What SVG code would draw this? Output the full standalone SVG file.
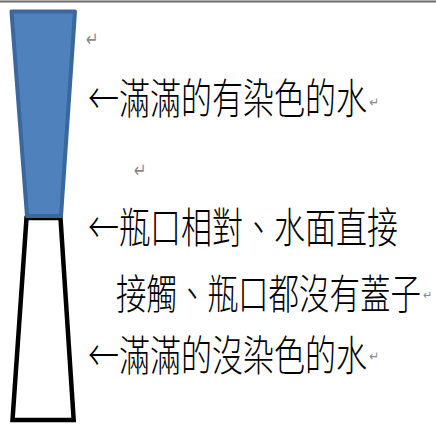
<svg xmlns="http://www.w3.org/2000/svg" width="436" height="424" viewBox="0 0 436 424">
<style>
.t{font-family:"Noto Sans CJK TC","Noto Sans CJK SC",sans-serif;font-size:31px;font-weight:300;fill:#000}
.m{font-family:"DejaVu Sans",sans-serif;fill:#8a8a8a}
</style>
<rect x="0" y="0" width="436" height="424" fill="#fff"/>
<rect x="0" y="0.5" width="436" height="2" fill="#6a6a6a"/>
<g id="bottle-bottom">
<polygon points="26.5,218 60.5,218 73.7,420 12.5,420" fill="#fff" stroke="#000" stroke-width="4.5" stroke-linejoin="miter"/>
</g>
<g id="bottle-top">
<polygon points="11.5,11.5 75,11.5 61,216 27,216" fill="#4f81bd" stroke="#3a679c" stroke-width="4" stroke-linejoin="round"/>
</g>
<g id="labels">
<text class="m" transform="translate(86,46) scale(1,1.35)" font-size="15">↵</text>
<text class="t" transform="translate(88,114) scale(1,1.35)">←滿滿的有染色的水</text>
<text class="m" transform="translate(369,107) scale(1,1.1)" font-size="12">↵</text>
<text class="m" transform="translate(134,177) scale(1,1.35)" font-size="15">↵</text>
<text class="t" transform="translate(88,243) scale(1,1.35)">←瓶口相對、水面直接</text>
<text class="t" transform="translate(116,309) scale(1,1.35)" font-size="30.5" style="font-size:30.5px">接觸、瓶口都沒有蓋子</text>
<text class="m" transform="translate(423,299) scale(1,1.1)" font-size="11">↵</text>
<text class="t" transform="translate(88,371) scale(1,1.35)">←滿滿的沒染色的水</text>
<text class="m" transform="translate(369,361) scale(1,1.1)" font-size="12">↵</text>
</g>
</svg>
